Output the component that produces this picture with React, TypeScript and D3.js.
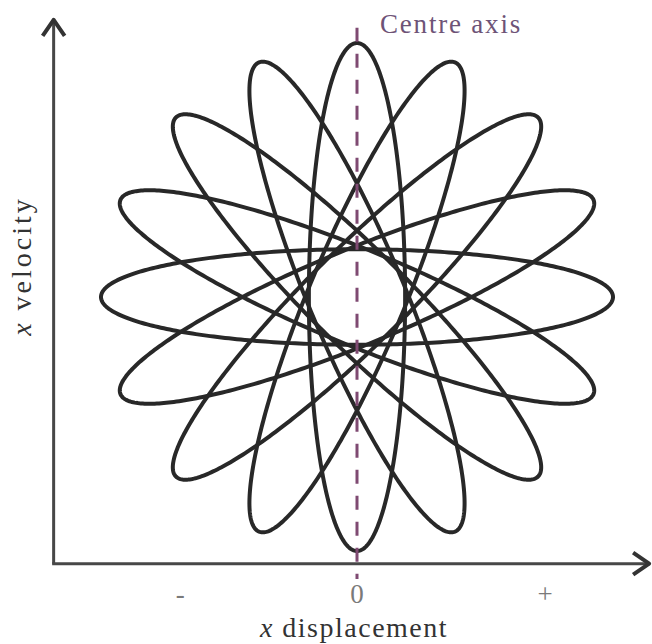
import React from "react";
import * as d3 from "d3";

// Orbit orientations (degrees) for the rosette of phase-space ellipses
const ellipseAngles = [0, 22.5, 45, 67.5, 90, 112.5, 135, 157.5];
// Semi-axes of every ellipse, in plot units
const semiMajor = [1.0];
const semiMinor = [0.188];
// Tick labels on the displacement axis
const tickLabels = ["-", "0", "+"];
const tickValues = [-0.69, 0, 0.735];
// Axis extents, in plot units
const xAxisExtent = [-1.185, 1.145];
const yAxisExtent = [-1.05, 1.095];
const centreAxisExtent = [-1.11, 1.06];

const W = 652;
const H = 644;

export default function App() {
  const x = d3.scaleLinear().domain([-1, 1]).range([101, 613]);
  const y = d3.scaleLinear().domain([-1, 1]).range([551, 43]);

  const line = d3
    .line<[number, number]>()
    .x((d) => x(d[0]))
    .y((d) => y(d[1]))
    .curve(d3.curveLinearClosed);

  const a = semiMajor[0];
  const b = semiMinor[0];
  const steps = d3.range(0, 360, 1);
  const ellipses = ellipseAngles.map((deg) => {
    const th = (deg * Math.PI) / 180;
    const pts = steps.map((s) => {
      const t = (s * Math.PI) / 180;
      const ex = a * Math.cos(t);
      const ey = b * Math.sin(t);
      return [
        ex * Math.cos(th) - ey * Math.sin(th),
        ex * Math.sin(th) + ey * Math.cos(th),
      ] as [number, number];
    });
    return line(pts) as string;
  });

  const axisColor = "#474747";
  const x0 = x(xAxisExtent[0]);
  const x1 = x(xAxisExtent[1]);
  const yb = y(yAxisExtent[0]);
  const yt = y(yAxisExtent[1]);
  const serif = "'Liberation Serif', 'Times New Roman', serif";

  return (
    <svg width={W} height={H} style={{ position: "absolute", left: 0, top: 0, background: "#fff" }}>
      {ellipses.map((d, i) => (
        <path key={i} d={d} fill="none" stroke="#282828" strokeWidth={4} />
      ))}

      {/* centre axis */}
      <line
        x1={x(0)}
        x2={x(0)}
        y1={y(centreAxisExtent[1])}
        y2={y(centreAxisExtent[0])}
        stroke="#7f4a72"
        strokeWidth={3}
        strokeDasharray="14 12"
      />
      <text x={380} y={33} fill="#6e5377" fontFamily={serif} fontSize={27} letterSpacing={1.8}>
        Centre axis
      </text>

      {/* axes */}
      <line x1={x0} x2={x0} y1={yb} y2={yt} stroke={axisColor} strokeWidth={3} />
      <line x1={x0 - 1.5} x2={x1} y1={yb} y2={yb} stroke={axisColor} strokeWidth={3} />
      <polyline
        points={`${x0 - 11},${yt + 17} ${x0},${yt + 1} ${x0 + 11},${yt + 17}`}
        fill="none"
        stroke="#333"
        strokeWidth={4}
        strokeLinejoin="round"
      />
      <polyline
        points={`${x1 - 17},${yb - 11} ${x1 - 1},${yb} ${x1 - 17},${yb + 11}`}
        fill="none"
        stroke="#333"
        strokeWidth={4}
        strokeLinejoin="round"
      />

      {tickLabels.map((t, i) => (
        <text
          key={t}
          x={x(tickValues[i])}
          y={603}
          textAnchor="middle"
          fill="#7a7a7a"
          fontFamily={serif}
          fontSize={27}
        >
          {t}
        </text>
      ))}

      <text x={354} y={637} textAnchor="middle" fill="#333" fontFamily={serif} fontSize={28} letterSpacing={1.5}>
        <tspan fontStyle="italic">x</tspan> displacement
      </text>
      <text
        transform={`translate(31,266) rotate(-90)`}
        textAnchor="middle"
        fill="#333"
        fontFamily={serif}
        fontSize={28}
        letterSpacing={3}
      >
        <tspan fontStyle="italic">x</tspan> velocity
      </text>
    </svg>
  );
}
